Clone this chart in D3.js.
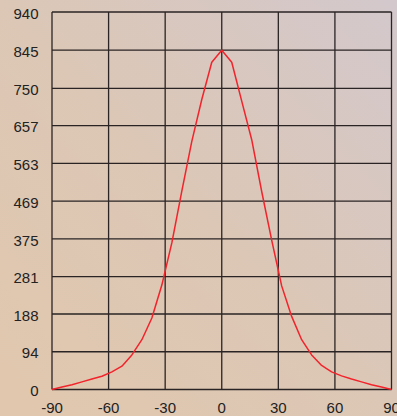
<!DOCTYPE html>
<html>
<head>
<meta charset="utf-8">
<script src="https://cdn.jsdelivr.net/npm/d3@7"></script>
<style>
  html, body { margin: 0; padding: 0; }
  body { width: 397px; height: 416px; overflow: hidden; }
  svg { display: block; }
</style>
</head>
<body>
<svg id="chart" width="397" height="416"></svg>
<script>
// ---- data ----
const xTicks = [-90, -60, -30, 0, 30, 60, 90];
const yTicks = [0, 94, 188, 281, 375, 469, 563, 657, 750, 845, 940];
const xValues = d3.range(35).map(i => -90 + i * 180 / 34);
const yValues = [0, 6, 12, 19, 26, 33, 44, 58, 86, 124, 178, 260, 365, 494, 618, 722, 815,
                 845,
                 815, 718, 622, 493, 372, 258, 182, 124, 86, 60, 44, 34, 26, 19, 12, 6, 0];

// ---- layout ----
const W = 397, H = 416;
const m = { left: 52, right: 5.5, top: 12, bottom: 26.5 };
const svg = d3.select("#chart");

const defs = svg.append("defs");
const grad = defs.append("linearGradient").attr("id", "bg")
  .attr("x1", "0").attr("y1", "1").attr("x2", "1").attr("y2", "0");
grad.append("stop").attr("offset", "0%").attr("stop-color", "#e1c7ad");
grad.append("stop").attr("offset", "50%").attr("stop-color", "#dcc7b6");
grad.append("stop").attr("offset", "100%").attr("stop-color", "#d3c8cc");
svg.append("rect").attr("width", W).attr("height", H).attr("fill", "url(#bg)");

const x = d3.scaleLinear().domain([-90, 90]).range([m.left, W - m.right]);
const y = d3.scaleLinear().domain([0, 940]).range([H - m.bottom, m.top]);

const grid = svg.append("g");
grid.selectAll("line.h").data(yTicks).join("line")
  .attr("x1", x(-90)).attr("x2", x(90))
  .attr("y1", d => y(d)).attr("y2", d => y(d))
  .attr("stroke", "#2a2424").attr("stroke-width", 1.3);
grid.selectAll("line.v").data(xTicks).join("line")
  .attr("y1", y(0)).attr("y2", y(940))
  .attr("x1", d => x(d)).attr("x2", d => x(d))
  .attr("stroke", "#2a2424").attr("stroke-width", 1.3);

svg.append("g").selectAll("text").data(yTicks).join("text")
  .attr("x", 38.5).attr("y", d => y(d) + 2.7)
  .attr("text-anchor", "end").attr("dominant-baseline", "middle")
  .attr("font-family", "Liberation Sans, Arial, sans-serif").attr("font-size", 15)
  .attr("fill", "#222")
  .text(d => d);

svg.append("g").selectAll("text").data(xTicks).join("text")
  .attr("x", d => x(d)).attr("y", 413)
  .attr("text-anchor", "middle")
  .attr("font-family", "Liberation Sans, Arial, sans-serif").attr("font-size", 15)
  .attr("fill", "#222")
  .text(d => d);

const line = d3.line().x((d, i) => x(xValues[i])).y(d => y(d));
svg.append("path").datum(yValues)
  .attr("d", line)
  .attr("fill", "none").attr("stroke", "#f2232b").attr("stroke-width", 1.5)
  .attr("stroke-linejoin", "round");
</script>
</body>
</html>
